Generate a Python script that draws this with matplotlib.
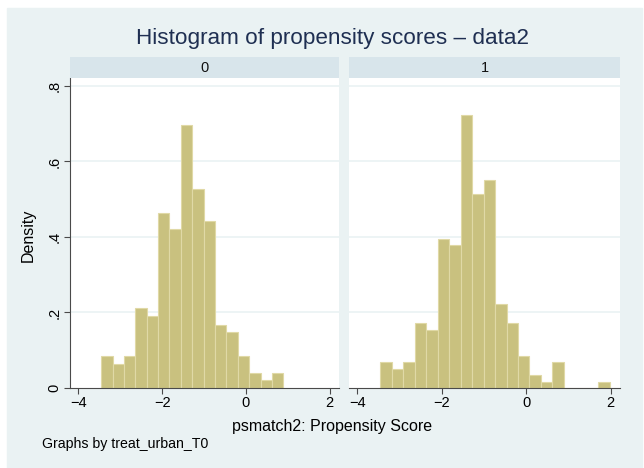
import matplotlib
matplotlib.use("Agg")
import matplotlib.pyplot as plt
from matplotlib.patches import Rectangle

plt.rcParams['font.family'] = ['Liberation Sans', 'DejaVu Sans']

# histogram bins
bin_start = -3.457
bin_width = 0.2717
groups = ["0", "1"]
density_0 = [0.084, 0.063, 0.084, 0.211, 0.190, 0.464, 0.422, 0.697,
             0.527, 0.443, 0.168, 0.147, 0.084, 0.041, 0.020, 0.041]
density_1 = [0.068, 0.050, 0.068, 0.171, 0.153, 0.394, 0.378, 0.722,
             0.515, 0.550, 0.222, 0.171, 0.085, 0.034, 0.016, 0.068,
             0.0, 0.0, 0.0, 0.016]
xticks = [-4, -2, 0, 2]
xtick_labels = ["\u22124", "\u22122", "0", "2"]
yticks = [0, 0.2, 0.4, 0.6, 0.8]
ytick_labels = ["0", ".2", ".4", ".6", ".8"]

bg = "#eaf2f3"
strip_col = "#d8e5eb"
bar_col = "#c9c17f"
bar_edge = "#e0d9a6"
navy = "#1f2f52"

W, H = 644, 468
fig = plt.figure(figsize=(W / 100, H / 100), dpi=100)
fig.patch.set_facecolor("white")
fig.add_artist(Rectangle((7 / W, 0), (642 - 7) / W, (H - 8) / H,
                         transform=fig.transFigure, color=bg, zorder=-10))

def px(x0, y0, x1, y1):
    return [x0 / W, 1 - y1 / H, (x1 - x0) / W, (y1 - y0) / H]

panels = [(70, 339), (349, 620)]
data = [density_0, density_1]

for i, (x0, x1) in enumerate(panels):
    ax = fig.add_axes(px(x0, 78, x1, 388))
    ax.set_facecolor("white")
    lefts = [bin_start + k * bin_width for k in range(len(data[i]))]
    ax.bar(lefts, data[i], width=bin_width, align="edge", color=bar_col,
           edgecolor=bar_edge, linewidth=0.8, zorder=2)
    ax.set_xlim(-4.2, 2.22)
    ax.set_ylim(0, 0.821)
    for y in yticks[1:]:
        ax.axhline(y, color=bg, lw=1.2, zorder=1)
    for s in ["top", "right"]:
        ax.spines[s].set_visible(False)
    ax.spines["bottom"].set_color("#4a4a4a")
    ax.spines["left"].set_color("#4a4a4a")
    ax.set_xticks(xticks)
    ax.set_xticklabels(xtick_labels, fontsize=10.5)
    ax.tick_params(axis="x", length=4, color="#4a4a4a", pad=1.5)
    ax.set_yticks(yticks)
    if i == 0:
        ax.set_yticklabels(ytick_labels, rotation=90, va="center", fontsize=10.5)
        ax.tick_params(axis="y", length=4, color="#4a4a4a", pad=2)
    else:
        ax.spines["left"].set_visible(False)
        ax.tick_params(axis="y", length=0, labelleft=False)
    # group strip
    sax = fig.add_axes(px(x0, 57, x1, 78))
    sax.set_facecolor(strip_col)
    sax.set_xticks([])
    sax.set_yticks([])
    for s in sax.spines.values():
        s.set_visible(False)
    sax.text(0.5, 0.5, groups[i], ha="center", va="center", fontsize=10.5,
             color="#111111", transform=sax.transAxes)

fig.text(332 / W, 1 - 44 / H, "Histogram of propensity scores \u2013 data2",
         ha="center", va="baseline", fontsize=16.2, color=navy)
fig.text(28 / W, 1 - 235 / H, "Density", rotation=90, ha="center",
         va="center", fontsize=11.5)
fig.text(332 / W, 1 - 431 / H, "psmatch2: Propensity Score", ha="center",
         va="baseline", fontsize=11.5)
fig.text(42 / W, 1 - 448 / H, "Graphs by treat_urban_T0", ha="left",
         va="baseline", fontsize=10.2)

fig.savefig("out.png", dpi=100, facecolor=fig.get_facecolor())
